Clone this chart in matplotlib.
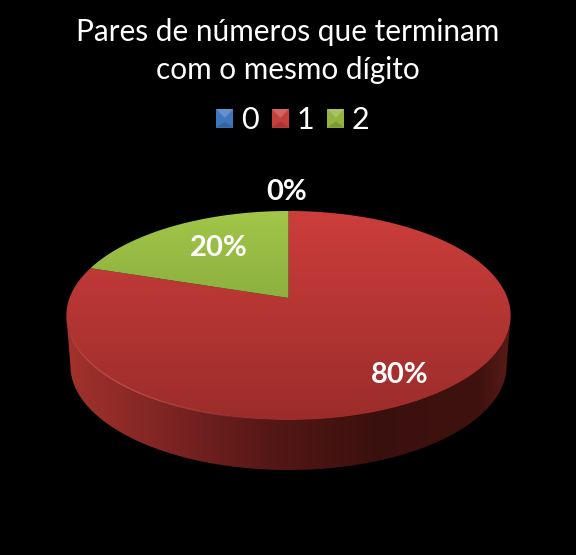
import numpy as np
import matplotlib
matplotlib.use('Agg')
import matplotlib.pyplot as plt
from matplotlib.collections import LineCollection
from matplotlib.colors import LinearSegmentedColormap
from matplotlib.patches import Patch, Polygon

plt.rcParams['font.family'] = ['Lato', 'DejaVu Sans']

# data
title = 'Pares de números que terminam\ncom o mesmo dígito'
categories = ['0', '1', '2']
values = [0, 80, 20]
pct_labels = ['0%', '80%', '20%']
label_xy = [(286.5, 192), (400, 375), (219, 248)]

# gradient top / bottom for each slice
top_colors = [('#4f81bd', '#3a6392'), ('#cd3e3c', '#9a2c2a'), ('#a2c748', '#6f8f35')]
legend_colors = ['#3f77bd', '#c5403d', '#93b43e']
side_cmap = LinearSegmentedColormap.from_list('side', [
    (0.00, '#a3322c'), (0.20, '#822624'), (0.45, '#561816'),
    (0.70, '#3a100e'), (0.93, '#3f120f'), (1.00, '#5a1a17')])

# pie geometry in pixels, perspective view of a flat disc
cx, cy = 288.5, 298.0
A, B, k = 219.0, 101.6, 0.1675
depth = 50.0


def disc(theta, scale=1.0, dy=0.0):
    # theta = clockwise from the top of the pie
    u, v = np.sin(theta), np.cos(theta)
    w = 1 + k * v
    return cx + scale * A * u / w, cy + dy - B * v / w


def gradient(ax, poly, extent, cmap, horizontal=False):
    g = np.linspace(0, 1, 256)
    g = g.reshape(1, -1) if horizontal else g.reshape(-1, 1)
    im = ax.imshow(g, extent=extent, cmap=cmap, aspect='auto',
                   origin='upper', interpolation='bilinear', vmin=0, vmax=1)
    patch = Polygon(poly, closed=True, fc='none', ec='none')
    ax.add_patch(patch)
    im.set_clip_path(patch)


fig = plt.figure(figsize=(5.76, 5.55), dpi=100, facecolor='black')
ax = fig.add_axes([0, 0, 1, 1])
ax.set_facecolor('black')
ax.axis('off')

# side wall
t = np.radians(np.linspace(99.6, 260.4, 300))
x1, y1 = disc(t)
x2, y2 = disc(t[::-1], scale=0.982, dy=depth)
side = np.column_stack([np.r_[x1, x2], np.r_[y1, y2]])
gradient(ax, side, (66, 511, 475, 210), side_cmap, horizontal=True)

# top face, slices go clockwise from 12 o'clock
fractions = np.array(values) / np.sum(values)
ends = np.cumsum(fractions) * 2 * np.pi
starts = np.r_[0, ends[:-1]]
for s, e, (c1, c2) in zip(starts, ends, top_colors):
    if e - s <= 0:
        continue
    t = np.linspace(s, e, 300)
    x, y = disc(t)
    poly = np.column_stack([np.r_[cx, x], np.r_[cy, y]])
    cmap = LinearSegmentedColormap.from_list('top', [c1, c2])
    gradient(ax, poly, (60, 520, 425, 208), cmap)

# light edge on the front left of the rim, fades out at both ends
t = np.radians(np.linspace(185, 262, 100))
x, y = disc(t)
pts = np.column_stack([x, y]).reshape(-1, 1, 2)
segs = np.concatenate([pts[:-1], pts[1:]], axis=1)
fade = np.sin(np.linspace(0, np.pi, len(segs))) * 0.7
edge_colors = [(0.85, 0.39, 0.35, a) for a in fade]
ax.add_collection(LineCollection(segs, colors=edge_colors, linewidths=0.9))

ax.set_xlim(0, 576)
ax.set_ylim(555, 0)

for txt, (lx, ly) in zip(pct_labels, label_xy):
    ax.text(lx, ly, txt, color='white', fontsize=21, fontweight='bold',
            ha='center', va='center')

ax.text(288, 51, title, color='white', fontsize=21.4, ha='center', va='center',
        linespacing=1.42)

handles = [Patch(facecolor=c, edgecolor='none') for c in legend_colors]
leg = ax.legend(handles, categories, loc='center', bbox_to_anchor=(293, 120),
                bbox_transform=ax.transData, ncol=3, frameon=False,
                fontsize=22, labelcolor='white', handlelength=0.56,
                handleheight=0.56, handletextpad=0.25, columnspacing=0.43)

# sheen on the legend keys
fig.canvas.draw()
for p in leg.get_patches():
    bb = p.get_window_extent().transformed(ax.transData.inverted())
    x0, x1 = bb.x0, bb.x1
    ytop, ybot = min(bb.y0, bb.y1), max(bb.y0, bb.y1)
    ax.add_patch(Polygon([(x0, ytop), (x1, ytop), ((x0 + x1) / 2, ytop + 9)],
                         closed=True, fc='white', ec='none', alpha=0.2, zorder=6))
    ax.add_patch(Polygon([(x0, ybot), (x1, ybot), ((x0 + x1) / 2, ybot - 6)],
                         closed=True, fc='black', ec='none', alpha=0.15, zorder=6))

fig.savefig('out.png', dpi=100, facecolor='black')
